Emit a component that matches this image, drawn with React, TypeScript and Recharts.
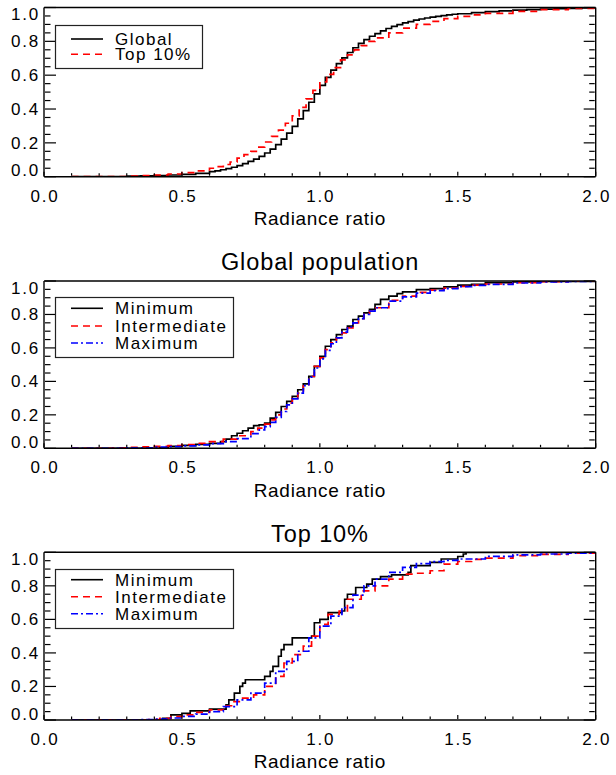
import React from 'react';
import { LineChart, Line, XAxis, YAxis, Legend } from 'recharts';

const FONT = '"Liberation Sans", Arial, Helvetica, sans-serif';
const RED = '#ff0000';
const BLUE = '#0000ff';

// axis ticks (majors get labels)
const xTicks = [0, 0.1, 0.2, 0.3, 0.4, 0.5, 0.6, 0.7, 0.8, 0.9, 1.0, 1.1, 1.2, 1.3, 1.4, 1.5, 1.6, 1.7, 1.8, 1.9, 2.0];
const yTicks = [0, 0.05, 0.1, 0.15, 0.2, 0.25, 0.3, 0.35, 0.4, 0.45, 0.5, 0.55, 0.6, 0.65, 0.7, 0.75, 0.8, 0.85, 0.9, 0.95, 1.0];

// panel 1: global vs top 10%
const globalX = [0.10, 0.20, 0.30, 0.35, 0.40, 0.45, 0.50, 0.55, 0.60, 0.62, 0.64, 0.66, 0.68, 0.70, 0.72, 0.74, 0.76, 0.78, 0.80, 0.82, 0.84, 0.86, 0.88, 0.90, 0.92, 0.94, 0.96, 0.98, 1.00, 1.02, 1.04, 1.06, 1.08, 1.10, 1.12, 1.14, 1.16, 1.18, 1.20, 1.22, 1.24, 1.26, 1.28, 1.30, 1.32, 1.34, 1.36, 1.38, 1.40, 1.42, 1.44, 1.46, 1.48, 1.50, 1.55, 1.60, 1.65, 1.70, 1.75, 1.80, 1.85, 1.90, 1.95, 2.00];
const globalY = [0, 0.001, 0.003, 0.005, 0.007, 0.01, 0.014, 0.02, 0.03, 0.035, 0.041, 0.048, 0.056, 0.066, 0.077, 0.09, 0.104, 0.12, 0.14, 0.163, 0.19, 0.222, 0.258, 0.298, 0.342, 0.39, 0.44, 0.49, 0.54, 0.587, 0.63, 0.668, 0.702, 0.734, 0.762, 0.788, 0.81, 0.83, 0.846, 0.862, 0.876, 0.888, 0.899, 0.909, 0.917, 0.925, 0.932, 0.938, 0.943, 0.948, 0.952, 0.956, 0.96, 0.963, 0.97, 0.976, 0.98, 0.984, 0.987, 0.99, 0.993, 0.995, 0.998, 1.0];
const top10X = [0.10, 0.25, 0.30, 0.35, 0.40, 0.45, 0.50, 0.55, 0.60, 0.625, 0.65, 0.675, 0.70, 0.725, 0.75, 0.775, 0.80, 0.825, 0.85, 0.875, 0.90, 0.925, 0.95, 0.975, 1.00, 1.025, 1.05, 1.075, 1.10, 1.125, 1.15, 1.175, 1.20, 1.25, 1.30, 1.35, 1.40, 1.45, 1.50, 1.55, 1.60, 1.70, 1.80, 1.90, 2.00];
const top10Y = [0, 0.001, 0.003, 0.006, 0.01, 0.016, 0.024, 0.035, 0.05, 0.06, 0.072, 0.087, 0.11, 0.13, 0.15, 0.175, 0.205, 0.238, 0.275, 0.316, 0.36, 0.41, 0.46, 0.51, 0.56, 0.605, 0.645, 0.69, 0.72, 0.75, 0.775, 0.8, 0.82, 0.85, 0.878, 0.9, 0.918, 0.934, 0.947, 0.957, 0.965, 0.977, 0.987, 0.994, 1.0];

// panel 2: global population by activity level
const gMinX = [0.10, 0.42, 0.45, 0.50, 0.55, 0.60, 0.64, 0.66, 0.68, 0.70, 0.72, 0.74, 0.76, 0.78, 0.80, 0.82, 0.84, 0.86, 0.88, 0.90, 0.92, 0.94, 0.96, 0.98, 1.00, 1.02, 1.04, 1.06, 1.08, 1.10, 1.12, 1.14, 1.16, 1.18, 1.20, 1.22, 1.25, 1.28, 1.30, 1.35, 1.40, 1.45, 1.50, 1.55, 1.60, 1.70, 1.80, 2.00];
const gMinY = [0, 0.003, 0.012, 0.018, 0.024, 0.03, 0.04, 0.055, 0.075, 0.09, 0.105, 0.12, 0.135, 0.14, 0.15, 0.18, 0.215, 0.25, 0.28, 0.31, 0.35, 0.385, 0.43, 0.49, 0.55, 0.61, 0.65, 0.68, 0.71, 0.73, 0.77, 0.79, 0.81, 0.83, 0.86, 0.89, 0.91, 0.925, 0.935, 0.948, 0.955, 0.965, 0.975, 0.98, 0.99, 0.995, 0.998, 1.0];
const gIntX = [0.10, 0.25, 0.30, 0.35, 0.40, 0.45, 0.50, 0.55, 0.60, 0.65, 0.70, 0.75, 0.775, 0.80, 0.82, 0.84, 0.86, 0.88, 0.90, 0.92, 0.94, 0.96, 0.98, 1.00, 1.02, 1.04, 1.06, 1.08, 1.10, 1.12, 1.14, 1.16, 1.18, 1.20, 1.25, 1.30, 1.35, 1.40, 1.45, 1.50, 1.55, 1.60, 1.70, 1.80, 1.90, 2.00];
const gIntY = [0, 0.002, 0.005, 0.008, 0.012, 0.016, 0.022, 0.03, 0.04, 0.055, 0.075, 0.1, 0.12, 0.145, 0.17, 0.2, 0.235, 0.27, 0.3, 0.33, 0.38, 0.43, 0.49, 0.54, 0.59, 0.63, 0.66, 0.69, 0.72, 0.75, 0.775, 0.8, 0.82, 0.84, 0.885, 0.91, 0.932, 0.945, 0.958, 0.968, 0.975, 0.982, 0.99, 0.996, 0.999, 1.0];
const gMaxX = [0.10, 0.30, 0.40, 0.45, 0.50, 0.55, 0.60, 0.65, 0.70, 0.75, 0.78, 0.80, 0.82, 0.84, 0.86, 0.88, 0.90, 0.92, 0.94, 0.96, 0.98, 1.00, 1.02, 1.04, 1.06, 1.08, 1.10, 1.12, 1.14, 1.16, 1.18, 1.20, 1.25, 1.30, 1.35, 1.40, 1.45, 1.50, 1.55, 1.60, 1.70, 1.80, 1.90, 2.00];
const gMaxY = [0, 0.003, 0.007, 0.01, 0.014, 0.02, 0.028, 0.04, 0.058, 0.088, 0.11, 0.13, 0.155, 0.185, 0.22, 0.26, 0.295, 0.33, 0.375, 0.425, 0.48, 0.535, 0.585, 0.625, 0.66, 0.695, 0.725, 0.75, 0.775, 0.8, 0.82, 0.84, 0.88, 0.905, 0.928, 0.943, 0.955, 0.966, 0.974, 0.98, 0.988, 0.994, 0.998, 1.0];

// panel 3: top 10% by activity level
const tMinX = [0.10, 0.43, 0.46, 0.50, 0.53, 0.60, 0.66, 0.67, 0.69, 0.71, 0.72, 0.73, 0.80, 0.82, 0.83, 0.85, 0.86, 0.87, 0.90, 0.97, 0.98, 1.00, 1.03, 1.08, 1.09, 1.10, 1.13, 1.17, 1.19, 1.22, 1.26, 1.32, 1.33, 1.40, 1.44, 1.50, 1.52, 1.53, 2.00];
const tMinY = [0, 0.01, 0.03, 0.04, 0.055, 0.065, 0.09, 0.12, 0.16, 0.2, 0.22, 0.24, 0.26, 0.29, 0.32, 0.38, 0.42, 0.45, 0.49, 0.5, 0.58, 0.6, 0.64, 0.65, 0.72, 0.75, 0.79, 0.81, 0.84, 0.855, 0.865, 0.88, 0.92, 0.94, 0.96, 0.975, 0.99, 1.0, 1.0];
const tIntX = [0.10, 0.38, 0.42, 0.46, 0.50, 0.55, 0.60, 0.65, 0.68, 0.72, 0.76, 0.80, 0.84, 0.87, 0.90, 0.94, 0.97, 1.00, 1.03, 1.07, 1.10, 1.15, 1.20, 1.25, 1.30, 1.35, 1.40, 1.45, 1.50, 1.55, 1.60, 1.70, 1.80, 1.90, 2.00];
const tIntY = [0, 0.003, 0.01, 0.02, 0.03, 0.045, 0.06, 0.085, 0.11, 0.13, 0.15, 0.2, 0.26, 0.34, 0.39, 0.44, 0.5, 0.57, 0.63, 0.65, 0.72, 0.77, 0.8, 0.84, 0.87, 0.875, 0.89, 0.93, 0.945, 0.958, 0.965, 0.98, 0.988, 0.995, 1.0];
const tMaxX = [0.10, 0.35, 0.40, 0.45, 0.50, 0.55, 0.60, 0.65, 0.70, 0.75, 0.80, 0.84, 0.88, 0.92, 0.96, 1.00, 1.04, 1.08, 1.12, 1.16, 1.20, 1.25, 1.30, 1.35, 1.40, 1.45, 1.50, 1.60, 1.70, 1.80, 1.90, 2.00];
const tMaxY = [0, 0.002, 0.005, 0.012, 0.022, 0.035, 0.05, 0.08, 0.12, 0.16, 0.22, 0.29, 0.35, 0.41, 0.49, 0.56, 0.62, 0.67, 0.745, 0.8, 0.84, 0.88, 0.91, 0.932, 0.944, 0.952, 0.96, 0.976, 0.985, 0.99, 0.995, 1.0];

type Series = { name: string; xs: number[]; ys: number[]; color: string; dash?: string };

const SOLID = undefined;
const DASH = '7 5';
const DASHDOT = '7 3 2 3';

const panel1: Series[] = [
  { name: 'Global', xs: globalX, ys: globalY, color: '#000', dash: SOLID },
  { name: 'Top 10%', xs: top10X, ys: top10Y, color: RED, dash: DASH },
];
const panel2: Series[] = [
  { name: 'Minimum', xs: gMinX, ys: gMinY, color: '#000', dash: SOLID },
  { name: 'Intermediate', xs: gIntX, ys: gIntY, color: RED, dash: DASH },
  { name: 'Maximum', xs: gMaxX, ys: gMaxY, color: BLUE, dash: DASHDOT },
];
const panel3: Series[] = [
  { name: 'Minimum', xs: tMinX, ys: tMinY, color: '#000', dash: SOLID },
  { name: 'Intermediate', xs: tIntX, ys: tIntY, color: RED, dash: DASH },
  { name: 'Maximum', xs: tMaxX, ys: tMaxY, color: BLUE, dash: DASHDOT },
];

const toPoints = (xs: number[], ys: number[]) => xs.map((x, i) => ({ x, y: ys[i] }));

const isMajorX = (v: number) => Math.abs(v * 2 - Math.round(v * 2)) < 1e-6;
const isMajorY = (v: number) => Math.abs(v * 5 - Math.round(v * 5)) < 1e-6;

const labelStyle = { fontFamily: FONT, fontSize: 17, letterSpacing: 1.8, fill: '#000' };

// IDL-style inward ticks on all four sides; the axes are 1px thick so
// tick coordinates come in 1px outside the frame
const BottomTick = (props: any) => {
  const { x, payload } = props;
  const y = props.y - 1;
  const major = isMajorX(payload.value);
  return (
    <g>
      <line x1={x} y1={y} x2={x} y2={y - (major ? 4 : 2.5)} stroke="#000" strokeWidth={1.2} />
      {major && (
        <text x={x + 1} y={y + 26} textAnchor="middle" {...labelStyle}>
          {payload.value.toFixed(1)}
        </text>
      )}
    </g>
  );
};

const TopTick = (props: any) => {
  const { x, payload } = props;
  const y = props.y + 1;
  const major = isMajorX(payload.value);
  return <line x1={x} y1={y} x2={x} y2={y + (major ? 4 : 2.5)} stroke="#000" strokeWidth={1.2} />;
};

const LeftTick = (props: any) => {
  const { y, payload } = props;
  const x = props.x + 1;
  const v = payload.value;
  const major = isMajorY(v);
  // end labels are nudged inward so they stay inside the frame height
  const shift = v === 0 ? -6.5 : v === 1 ? 6.5 : 0;
  return (
    <g>
      <line x1={x} y1={y} x2={x + (major ? 11 : 5.5)} y2={y} stroke="#000" strokeWidth={1.2} />
      {major && (
        <text x={x - 5} y={y + shift + 6} textAnchor="end" {...labelStyle}>
          {v.toFixed(1)}
        </text>
      )}
    </g>
  );
};

const RightTick = (props: any) => {
  const { y, payload } = props;
  const x = props.x - 1;
  const major = isMajorY(payload.value);
  return <line x1={x} y1={y} x2={x - (major ? 11 : 5.5)} y2={y} stroke="#000" strokeWidth={1.2} />;
};

const LegendBox = ({ series, width, height, rows }: { series: Series[]; width: number; height: number; rows: number[] }) => (
  <svg width={width} height={height} style={{ display: 'block', overflow: 'visible' }}>
    <rect x={0.5} y={0.5} width={width - 1} height={height - 1} fill="#fff" stroke="#222" strokeWidth={1.2} />
    {series.map((s, i) => (
      <g key={s.name}>
        <line x1={16} x2={48} y1={rows[i]} y2={rows[i]} stroke={s.color} strokeWidth={1.6} strokeDasharray={s.dash} />
        <text x={60} y={rows[i] + 6} fontFamily={FONT} fontSize={17} letterSpacing={1.5} fill="#000">
          {s.name}
        </text>
      </g>
    ))}
  </svg>
);

type PanelProps = {
  top: number;
  height: number;
  margin: { top: number; right: number; bottom: number; left: number };
  series: Series[];
  legend: { top: number; width: number; height: number; rows: number[] };
  title?: string;
  titleY?: number;
};

const frame = { stroke: '#000', strokeWidth: 1.4 };

const Panel = ({ top, height, margin, series, legend, title, titleY }: PanelProps) => (
  <>
    {title && (
      <div
        style={{
          position: 'absolute',
          left: 120,
          width: 400,
          top: (titleY as number) - 14,
          textAlign: 'center',
          fontFamily: FONT,
          fontSize: 23.5,
          letterSpacing: 0.9,
          lineHeight: '28px',
          color: '#000',
        }}
      >
        {title}
      </div>
    )}
    <div style={{ position: 'absolute', left: 0, top, width: 616, height }}>
      <LineChart
        width={616}
        height={height}
        margin={{ top: margin.top - 1, right: margin.right - 1, bottom: margin.bottom - 1, left: margin.left - 1 }}
      >
        <XAxis
          xAxisId="x"
          dataKey="x"
          type="number"
          domain={[0, 2]}
          ticks={xTicks}
          interval={0}
          height={1}
          tickSize={0}
          tickMargin={0}
          tickLine={false}
          tick={BottomTick}
          axisLine={frame}
          allowDataOverflow
          label={{
            value: 'Radiance ratio',
            position: 'bottom',
            offset: 34,
            fontFamily: FONT,
            fontSize: 19,
            letterSpacing: 0.7,
            fill: '#000',
          }}
        />
        <XAxis
          xAxisId="top"
          orientation="top"
          type="number"
          domain={[0, 2]}
          ticks={xTicks}
          interval={0}
          height={1}
          tickSize={0}
          tickMargin={0}
          tickLine={false}
          tick={TopTick}
          axisLine={frame}
          allowDataOverflow
        />
        <YAxis
          yAxisId="y"
          type="number"
          domain={[0, 1]}
          ticks={yTicks}
          interval={0}
          width={1}
          tickSize={0}
          tickMargin={0}
          tickLine={false}
          tick={LeftTick}
          axisLine={frame}
          allowDataOverflow
        />
        <YAxis
          yAxisId="right"
          orientation="right"
          type="number"
          domain={[0, 1]}
          ticks={yTicks}
          interval={0}
          width={1}
          tickSize={0}
          tickMargin={0}
          tickLine={false}
          tick={RightTick}
          axisLine={frame}
          allowDataOverflow
        />
        {series.map((s) => (
          <Line
            key={s.name}
            xAxisId="x"
            yAxisId="y"
            data={toPoints(s.xs, s.ys)}
            dataKey="y"
            name={s.name}
            type="stepAfter"
            stroke={s.color}
            strokeWidth={1.7}
            strokeDasharray={s.dash}
            dot={false}
            activeDot={false}
            isAnimationActive={false}
          />
        ))}
        <Legend
          layout="vertical"
          align="center"
          verticalAlign="middle"
          wrapperStyle={{ left: 55, top: legend.top, width: legend.width, height: legend.height }}
          content={() => <LegendBox series={series} width={legend.width} height={legend.height} rows={legend.rows} />}
        />
      </LineChart>
    </div>
  </>
);

export default function App() {
  return (
    <div style={{ position: 'absolute', left: 0, top: 0, width: 616, height: 775, background: '#fff', overflow: 'hidden' }}>
      <Panel
        top={0}
        height={232}
        margin={{ top: 7.5, right: 20.3, bottom: 55.3, left: 44 }}
        series={panel1}
        legend={{ top: 25, width: 148, height: 44, rows: [14, 29.3] }}
      />
      <Panel
        top={232}
        height={268}
        margin={{ top: 49, right: 20.3, bottom: 51.7, left: 44 }}
        series={panel2}
        legend={{ top: 64.7, width: 179, height: 61, rows: [11.3, 29, 46] }}
        title="Global population"
        titleY={262}
      />
      <Panel
        top={500}
        height={275}
        margin={{ top: 52.3, right: 20.3, bottom: 55, left: 44 }}
        series={panel3}
        legend={{ top: 69.3, width: 179, height: 60, rows: [10.7, 27.7, 44.7] }}
        title="Top 10%"
        titleY={533.5}
      />
    </div>
  );
}
